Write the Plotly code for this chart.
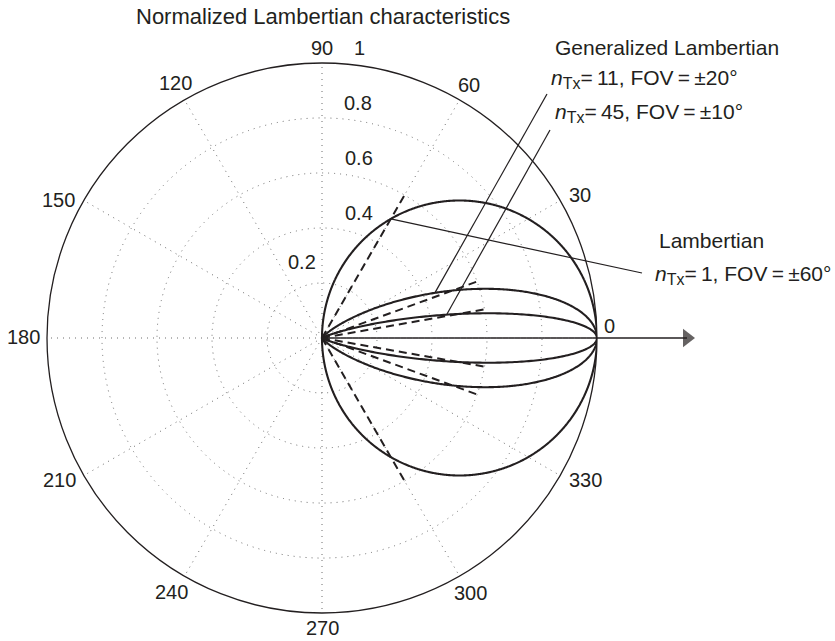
import numpy as np
import plotly.graph_objects as go

# ---- data -------------------------------------------------------------
# Lambertian orders and their half-power fields of view (degrees)
orders = [1, 11, 45]
fov_deg = [60, 20, 10]
# radial length of the dashed FOV markers
fov_mark_len = [0.6, 0.6, 0.6]
# angle (deg) where each legend leader line meets its curve
leader_theta = [60.0, 21.8, 10.6]

radial_ticks = [0.2, 0.4, 0.6, 0.8, 1.0]
radial_labels = ["0.2", "0.4", "0.6", "0.8", "1"]
angle_ticks = [0, 30, 60, 90, 120, 150, 180, 210, 240, 270, 300, 330]
angle_labels = [str(a) for a in angle_ticks]

TS = "\u2009"  # thin space


def n_tx_label(n, fov):
    return ('<span style="font-style:italic;font-size:21px">n</span>'
            '<sub><span style="font-size:16px">Tx</span></sub>'
            f'<span style="font-size:21px">={TS}{n}, FOV{TS}={TS}±{fov}°</span>')


title_text = "Normalized Lambertian characteristics"
legend_texts = [
    "Generalized Lambertian",
    n_tx_label(orders[1], fov_deg[1]),
    n_tx_label(orders[2], fov_deg[2]),
    "Lambertian",
    n_tx_label(orders[0], fov_deg[0]),
]

# ---- page geometry (pixels) ------------------------------------------
W, H = 835, 641
CX, CY, R = 322, 338, 275
INK = "#231f20"
FONT = "Liberation Sans, Arial, sans-serif"


def px(x, y):
    """Page pixel -> overlay data units (radius 1 = outer circle)."""
    return (x - CX) / R, (CY - y) / R


# centres of the tick label texts
angle_label_px = [(609, 326), (580, 195), (469, 85), (322, 48), (175, 83),
                  (58, 200), (23, 337), (59, 480), (171, 592), (322, 628),
                  (470, 593), (585, 480)]
radial_label_px = [(302, 262), (359, 213), (359, 158), (358, 103), (359, 48)]
# legend text positions (left edge, vertical centre)
legend_px = [(553, 47), (549, 79), (553, 113), (657, 240), (653, 275)]
# free ends of the leader lines
leader_end_px = [(642, 273), (547, 94), (550, 130)]
# end of the 0-degree axis arrow (head centre)
arrow_head_px = (687, 338)

fig = go.Figure()

# Lambertian radiation patterns r = cos^n(theta)
theta = np.linspace(-90, 90, 1441)
for n in orders:
    r = np.cos(np.radians(theta)) ** n
    fig.add_trace(go.Scatterpolar(
        r=r, theta=theta, mode="lines",
        line=dict(color=INK, width=2.1), hoverinfo="skip"))

# dashed FOV markers at +/- FOV
for f, L in zip(fov_deg, fov_mark_len):
    for s in (1, -1):
        fig.add_trace(go.Scatterpolar(
            r=[0, L], theta=[s * f, s * f], mode="lines",
            line=dict(color=INK, width=2, dash="8px,5px"),
            hoverinfo="skip"))

# leader lines from the curves to the legend texts (overlay axes)
for n, th, end in zip(orders, leader_theta, leader_end_px):
    rr = np.cos(np.radians(th)) ** n
    x0, y0 = rr * np.cos(np.radians(th)), rr * np.sin(np.radians(th))
    x1, y1 = px(*end)
    fig.add_trace(go.Scatter(
        x=[x0, x1], y=[y0, y1], mode="lines",
        line=dict(color=INK, width=1.2), hoverinfo="skip",
        xaxis="x", yaxis="y"))

# 0-degree axis with arrow head
hx, hy = px(*arrow_head_px)
fig.add_trace(go.Scatter(
    x=[0, hx], y=[0, hy], mode="lines+markers",
    line=dict(color=INK, width=1.3),
    marker=dict(symbol="triangle-right", size=[0, 16], color=INK,
                line=dict(width=0)),
    hoverinfo="skip", xaxis="x", yaxis="y"))

annotations = []


def text(xy, s, size=20, xanchor="center"):
    x, y = px(*xy)
    annotations.append(dict(
        x=x, y=y, xref="x", yref="y", text=s, showarrow=False,
        xanchor=xanchor, yanchor="middle",
        font=dict(family=FONT, size=size, color=INK)))


for pos, lab in zip(angle_label_px, angle_labels):
    text(pos, lab)
for pos, lab in zip(radial_label_px, radial_labels):
    text(pos, lab)
for pos, s in zip(legend_px, legend_texts):
    text(pos, s, size=21, xanchor="left")
text((323, 16), title_text, size=22)

fig.update_layout(
    template="none",
    width=W, height=H,
    margin=dict(l=0, r=0, t=0, b=0, pad=0),
    paper_bgcolor="white",
    plot_bgcolor="rgba(0,0,0,0)",
    showlegend=False,
    polar=dict(
        domain=dict(x=[(CX - R) / W, (CX + R) / W],
                    y=[1 - (CY + R) / H, 1 - (CY - R) / H]),
        bgcolor="rgba(0,0,0,0)",
        radialaxis=dict(range=[0, 1], tickvals=radial_ticks,
                        showticklabels=False, ticks="", showline=False,
                        showgrid=True, gridcolor="#6d6d6d", gridwidth=1,
                        griddash="1px,5px"),
        angularaxis=dict(tickvals=angle_ticks, direction="counterclockwise",
                         rotation=0, showticklabels=False, ticks="",
                         showline=True, linecolor=INK, linewidth=1.3,
                         showgrid=True, gridcolor="#6d6d6d", gridwidth=1,
                         griddash="1px,5px"),
    ),
    xaxis=dict(domain=[0, 1], range=[-CX / R, (W - CX) / R], visible=False,
               fixedrange=True),
    yaxis=dict(domain=[0, 1], range=[-(H - CY) / R, CY / R], visible=False,
               fixedrange=True),
    annotations=annotations,
)

fig.write_html("out.html")
